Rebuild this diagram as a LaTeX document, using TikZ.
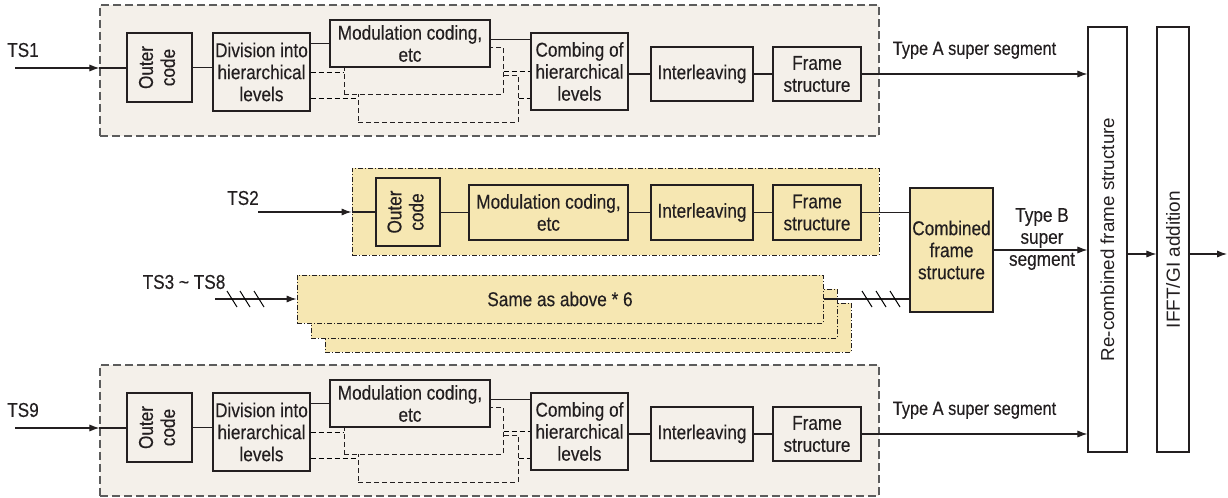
\documentclass[tikz,border=0pt]{standalone}
\usepackage{fontspec}
\setmainfont{Liberation Sans}[FakeStretch=0.86,FakeBold=0.25]
\newfontfamily\widesans{Liberation Sans}
\usepackage{graphicx}
\usetikzlibrary{arrows.meta,calc,positioning}
\definecolor{paleBeige}{HTML}{F4F0EA}
\definecolor{paleYellow}{HTML}{F6E7B2}
\definecolor{lineGray}{HTML}{5C5C5C}
\definecolor{inkDark}{HTML}{231F20}

\tikzset{
  corners/.style n args={4}{minimum width={(#3-#1)*0.5pt},
    minimum height={(#4-#2)*0.5pt},at={({(#1+#3)/2},{(#2+#4)/2})}},
  blk/.style={draw=inkDark,line width=0.6pt,inner sep=0pt,align=center},
  grpA/.style={draw=lineGray,line width=0.65pt,dash pattern=on 4pt off 2pt,
    fill=paleBeige,inner sep=0pt},
  grpB/.style={draw=inkDark,line width=0.5pt,
    dash pattern=on 2.5pt off 1pt on 0.5pt off 1pt,fill=paleYellow,inner sep=0pt},
  dline/.style={line width=0.5pt,dash pattern=on 2.5pt off 1.5pt},
  link/.style={line width=0.55pt,draw=inkDark},
}
\newcommand{\vtext}[1]{\rotatebox{90}{\begin{tabular}{@{}c@{}}#1\end{tabular}}}

\begin{document}
\begin{tikzpicture}[x=0.5pt,y=-0.5pt,>={Latex[length=5pt,width=3.6pt]},
    font=\fontsize{10}{11}\selectfont,text=inkDark]
  \useasboundingbox (0,0) rectangle (1228,498);

  % right-hand blocks
  \node[blk,fill=white,corners={1088}{27}{1127}{452}] (rc)
    {\rotatebox{90}{\widesans\fontsize{9.4}{11}\selectfont Re-combined frame structure}};
  \node[blk,fill=white,corners={1157}{27}{1189}{452}] (ifft)
    {\rotatebox{90}{\widesans\fontsize{9.5}{11}\selectfont IFFT/GI addition\hspace{20pt}}};
  \coordinate (out) at (1227,254);
  \draw[link,->] (rc.east |- out) -- (ifft.west |- out);
  \draw[link,->] (ifft.east |- out) -- (out);

  % type A chains (TS1 and TS9)
  \foreach \dy/\gp/\ts in {0/a/TS1,360/c/TS9}{
  \begin{scope}[shift={(0,\dy)},name prefix=\gp-]
    \node[grpA,corners={100}{5}{879}{136}] (frame) {};
    \node (ts) at (23,50) {\ts};
    \coordinate (in) at (15,68);
    \draw[link,->] (in) -- (in -| frame.west);
    \node[blk,fill=paleBeige,corners={127}{33}{192}{102}] (oc) {\vtext{Outer\\code}};
    \node[blk,fill=paleBeige,corners={213}{33}{310}{111}] (div)
      {Division into\\hierarchical\\levels};
    \node[blk,fill=paleBeige,dline,corners={358}{75}{518}{122}] (mod3) {};
    \node[blk,fill=paleBeige,dline,corners={344}{47}{503}{94}] (mod2) {};
    \node[blk,fill=paleBeige,corners={330}{20}{490}{67}] (mod1)
      {Modulation coding,\\etc};
    \node[blk,fill=paleBeige,corners={531}{33}{628}{110}] (comb)
      {Combing of\\hierarchical\\levels};
    \node[blk,fill=paleBeige,corners={651}{47}{753}{101}] (il) {Interleaving};
    \node[blk,fill=paleBeige,corners={773}{47}{861}{101}] (fs) {Frame\\structure};
    \draw[link] (in -| frame.west) -- (in -| oc.west);
    \draw[link] (oc.east) -- (oc.east -| div.west);
    \draw[link] (mod1.west -| div.east) -- (mod1.west);
    \draw[link] ([yshift=2pt]mod1.east) -- ([yshift=2pt]mod1.east -| comb.west);
    \draw[dline] (div.east) -- (div.east -| mod2.west);
    \draw[dline] (mod2.east |- comb.west) -- (comb.west);
    \draw[dline] (mod3.west -| div.east) -- (mod3.west);
    \draw[dline] (mod3.east) -- (mod3.east -| comb.west);
    \draw[link] (il.west -| comb.east) -- (il.west);
    \draw[link] (il.east) -- (fs.west);
  \end{scope}
  \draw[link,->] (\gp-fs.east) -- (\gp-fs.east -| rc.west)
    node[midway,above=4pt,font=\fontsize{9.5}{11}\selectfont] {Type A super segment};
  }

  % type B chain (TS2)
  \node[grpB,corners={352}{168}{879}{255}] (grpb) {};
  \node (tsb) at (243,198) {TS2};
  \coordinate (inb) at (258,212);
  \draw[link,->] (inb) -- (inb -| grpb.west);
  \node[blk,fill=paleYellow,corners={376}{178}{440}{246}] (ocb) {\vtext{Outer\\code}};
  \node[blk,fill=paleYellow,corners={469}{185}{628}{240}] (modb) {Modulation coding,\\etc};
  \node[blk,fill=paleYellow,corners={651}{185}{753}{240}] (ilb) {Interleaving};
  \node[blk,fill=paleYellow,corners={773}{185}{861}{240}] (fsb) {Frame\\structure};
  \node[blk,fill=paleYellow,corners={910}{188}{993}{312}] (cfs)
    {Combined\\frame\\structure};
  \draw[link] (inb -| grpb.west) -- (inb -| ocb.west);
  \draw[link] (ocb.east |- modb.west) -- (modb.west);
  \draw[link] (modb.east) -- (ilb.west);
  \draw[link] (ilb.east) -- (fsb.west);
  \draw[link] (fsb.east) -- (fsb.east -| cfs.west);

  % TS3 ~ TS8, six more chains
  \node[grpB,corners={325}{303}{851}{352}] (same3) {};
  \node[grpB,corners={311}{289}{837}{338}] (same2) {};
  \node[grpB,corners={297}{275}{823}{323}] (same1) {Same as above * 6};
  \node (tsm) at (184,282) {TS3 \textasciitilde{} TS8};
  \coordinate (inm) at (215,299);
  \draw[link,->] (inm) -- (inm -| same1.west);
  \draw[link] (same1.east) -- (same1.east -| cfs.west);
  \foreach \sx in {232,245,259,867,881,895}
    \draw[line width=0.5pt] (\sx-5,291) -- (\sx+5,307);

  \draw[link,->] (cfs.east) -- (cfs.east -| rc.west);
  \node[align=center] (tb) at (1042,239) {Type B\\super\\segment};
\end{tikzpicture}
\end{document}
